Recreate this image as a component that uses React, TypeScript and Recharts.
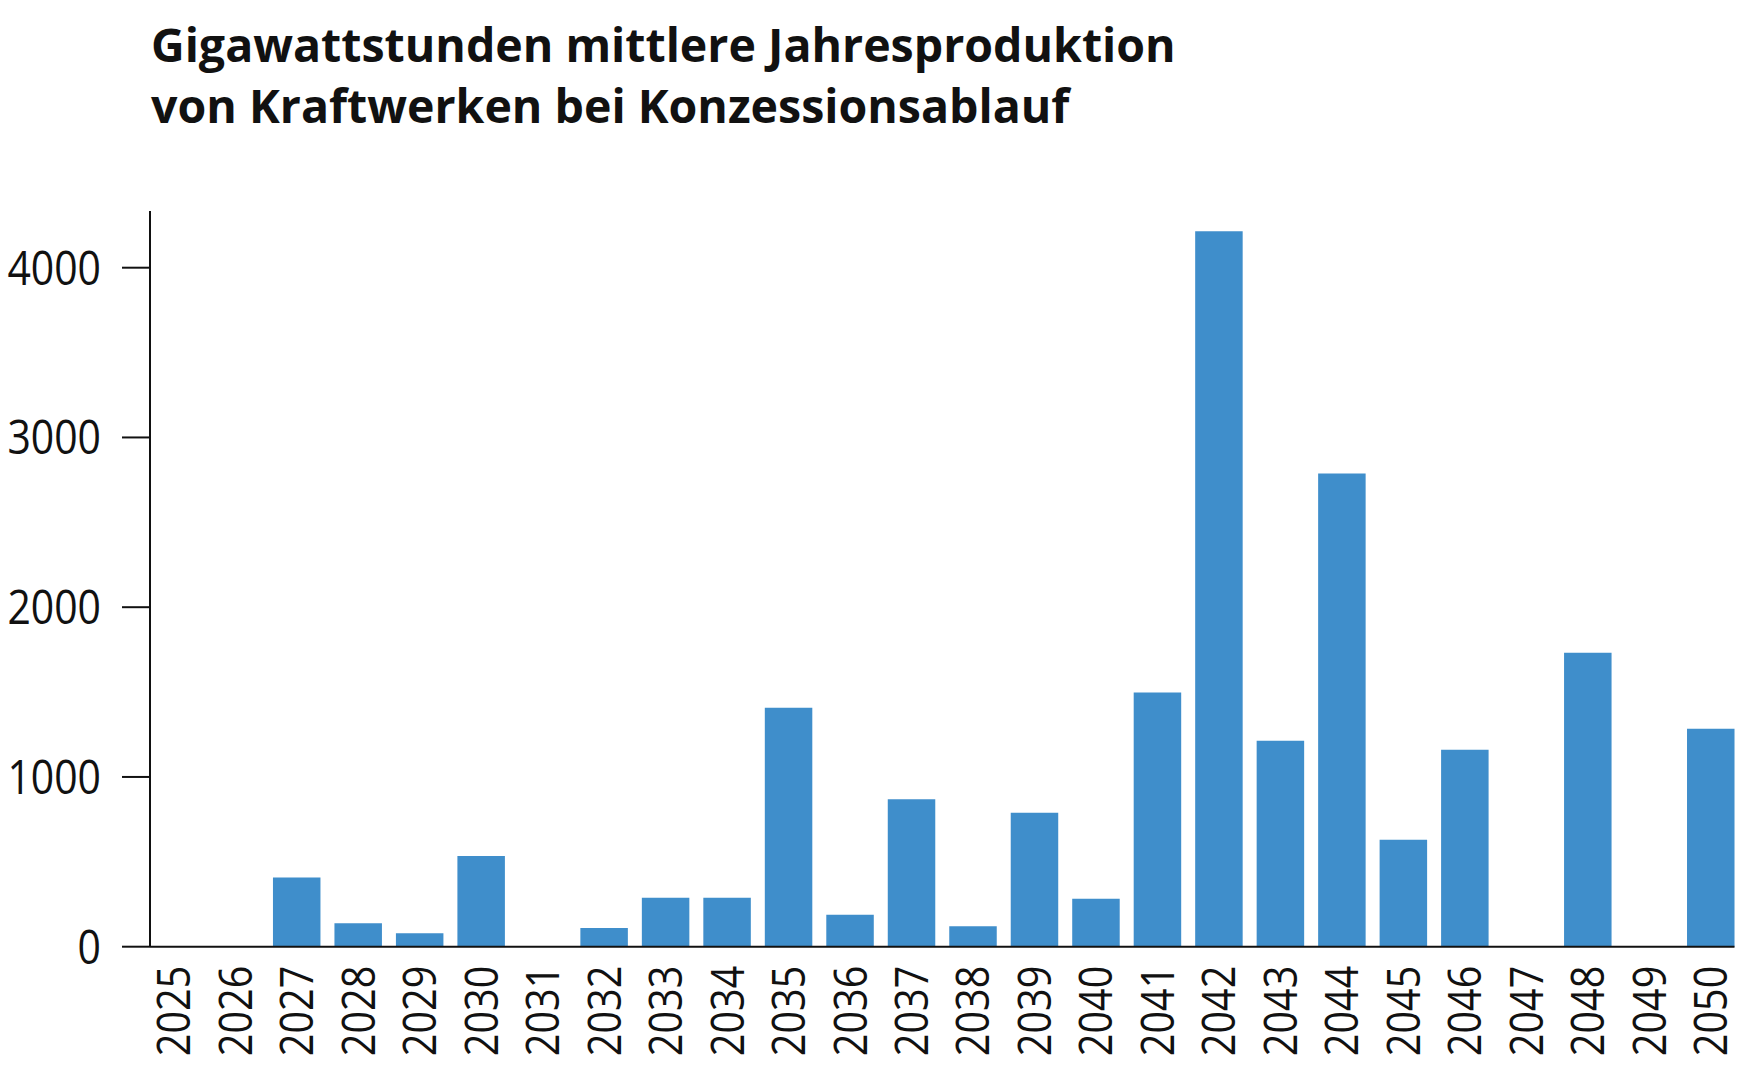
import { BarChart, Bar, XAxis, YAxis } from "recharts";

const years = [
	"2025", "2026", "2027", "2028", "2029", "2030", "2031", "2032", "2033",
	"2034", "2035", "2036", "2037", "2038", "2039", "2040", "2041", "2042",
	"2043", "2044", "2045", "2046", "2047", "2048", "2049", "2050",
];

const gwh = [
	0, 0, 408, 138, 79, 535, 0, 110, 288, 288, 1408, 188, 868, 120, 789, 283,
	1497, 4215, 1213, 2788, 630, 1160, 0, 1732, 0, 1284,
];

const yTicks = [0, 1000, 2000, 3000, 4000];

const titleLines = [
	"Gigawattstunden mittlere Jahresproduktion",
	"von Kraftwerken bei Konzessionsablauf",
];

const data = years.map((year, i) => ({ year, gwh: gwh[i] }));

const FONT = "'Open Sans', 'Noto Sans', sans-serif";

function YTick({ x, y, payload }: any) {
	return (
		<text
			transform={`translate(${x - 19}, ${y + 17}) scale(0.87, 1)`}
			textAnchor="end"
			fontFamily={FONT}
			fontSize={47}
			fill="#111"
		>
			{payload.value}
		</text>
	);
}

function XTick({ x, y, payload }: any) {
	return (
		<text
			transform={`translate(${x + 16.5}, ${y + 11}) rotate(-90) scale(0.86, 1)`}
			textAnchor="end"
			fontFamily={FONT}
			fontSize={46}
			fill="#111"
		>
			{payload.value}
		</text>
	);
}

export default function App() {
	return (
		<div
			style={{
				position: "absolute",
				left: 0,
				top: 0,
				width: 1759,
				height: 1080,
				background: "#fff",
			}}
		>
			<div
				style={{
					position: "absolute",
					left: 151,
					top: 14,
					fontFamily: FONT,
					fontWeight: 700,
					fontSize: 46.5,
					lineHeight: "61px",
					color: "#111",
					whiteSpace: "nowrap",
				}}
			>
				{titleLines.map(line => (
					<div key={line}>{line}</div>
				))}
			</div>
			<BarChart
				width={1759}
				height={1080}
				data={data}
				margin={{ top: 211, right: 24.5, left: 0, bottom: 0 }}
			>
				<XAxis
					dataKey="year"
					interval={0}
					height={133.3}
					padding={{ left: -7, right: -7 }}
					tickLine={false}
					axisLine={{ stroke: "#111", strokeWidth: 2 }}
					tick={<XTick />}
				/>
				<YAxis
					width={150}
					domain={[0, 4334]}
					ticks={yTicks}
					tickSize={28}
					tickLine={{ stroke: "#111", strokeWidth: 2 }}
					axisLine={{ stroke: "#111", strokeWidth: 2 }}
					tick={<YTick />}
				/>
				<Bar
					dataKey="gwh"
					fill="#3f8ecb"
					barSize={47.5}
					isAnimationActive={false}
				/>
			</BarChart>
		</div>
	);
}
